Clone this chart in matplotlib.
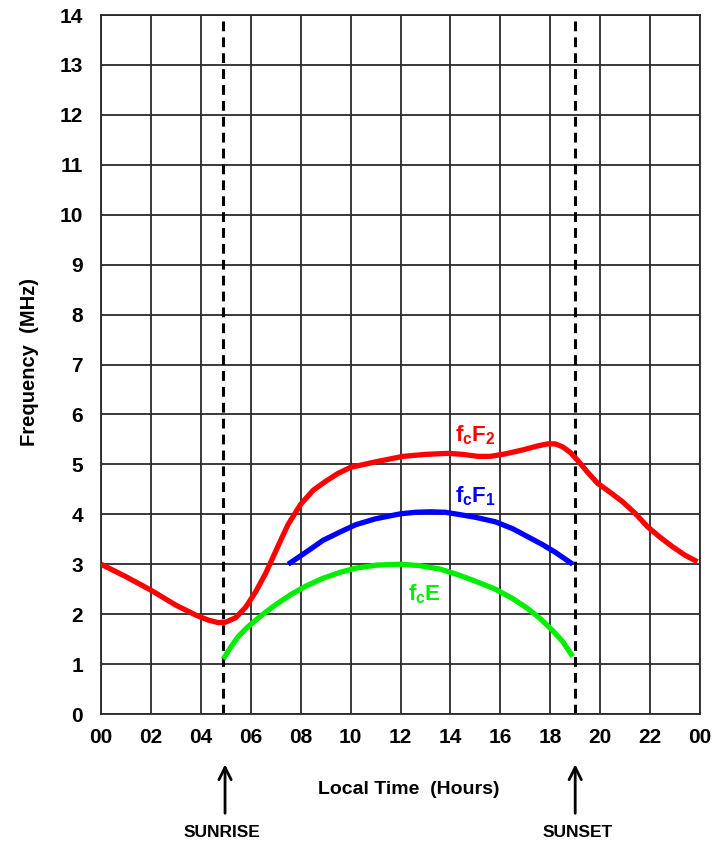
import matplotlib
matplotlib.use("Agg")
import matplotlib.pyplot as plt
import numpy as np

plt.rcParams['font.family'] = ['Liberation Sans', 'DejaVu Sans']
plt.rcParams['font.weight'] = 'bold'
plt.rcParams['mathtext.fontset'] = 'custom'
plt.rcParams['mathtext.bf'] = 'Liberation Sans:bold'
plt.rcParams['mathtext.rm'] = 'Liberation Sans:bold'

# fcF2 (red)
f2_t = [0, 1, 2, 3, 3.8, 4.3, 4.7, 5.0, 5.4, 5.8, 6.2, 6.6, 6.9, 7.2, 7.5, 8.0, 8.5, 9.0, 9.5, 10.0, 11.0, 12.1, 13.0, 13.9, 14.5, 15.1, 15.6, 16.2, 16.9, 17.5, 17.9, 18.2, 18.5, 18.8, 19.1, 19.5, 19.9, 20.4, 20.9, 21.4, 21.9, 22.4, 22.9, 23.4, 23.9]
f2_f = [3.0, 2.75, 2.48, 2.18, 1.98, 1.88, 1.83, 1.84, 1.93, 2.14, 2.45, 2.82, 3.15, 3.48, 3.80, 4.20, 4.48, 4.66, 4.82, 4.94, 5.05, 5.16, 5.20, 5.22, 5.20, 5.16, 5.16, 5.21, 5.29, 5.37, 5.41, 5.41, 5.35, 5.24, 5.08, 4.84, 4.62, 4.44, 4.25, 4.02, 3.75, 3.54, 3.35, 3.18, 3.05]

# fcF1 (blue)
f1_t = [7.5, 8.3, 8.9, 9.6, 10.2, 11.0, 12.0, 12.6, 13.2, 13.8, 14.3, 15.0, 15.8, 16.5, 17.1, 17.7, 18.2, 18.9]
f1_f = [3.0, 3.27, 3.48, 3.65, 3.79, 3.91, 4.01, 4.04, 4.05, 4.04, 4.0, 3.94, 3.85, 3.71, 3.55, 3.39, 3.24, 3.0]

# fcE (green)
fe_t = [4.9, 5.2, 5.5, 5.85, 6.2, 6.6, 7.0, 7.6, 8.2, 8.9, 9.6, 10.2, 11.0, 12.0, 12.8, 13.6, 14.3, 15.0, 15.8, 16.5, 17.1, 17.6, 18.1, 18.5, 18.9]
fe_f = [1.1, 1.34, 1.55, 1.73, 1.88, 2.04, 2.19, 2.39, 2.56, 2.72, 2.84, 2.92, 2.98, 3.0, 2.97, 2.9, 2.79, 2.66, 2.50, 2.31, 2.11, 1.91, 1.67, 1.45, 1.15]

sunrise = 4.9
sunset = 19.0

x_ticks = list(range(0, 25, 2))
x_labels = ["00", "02", "04", "06", "08", "10", "12", "14", "16", "18", "20", "22", "00"]
y_ticks = list(range(0, 15))

fig = plt.figure(figsize=(7.17, 8.44), dpi=100)
ax = fig.add_axes([101/717, 1 - 714/844, 599/717, 699/844])

ax.set_xlim(0, 24)
ax.set_ylim(0, 14)
ax.set_xticks(x_ticks)
ax.set_xticklabels(x_labels)
ax.set_yticks(y_ticks)
ax.tick_params(length=0, labelsize=15)
ax.tick_params(axis='x', pad=10)
ax.tick_params(axis='y', pad=13)
ax.grid(True, color='#2a2a2a', lw=1.3)
ax.set_axisbelow(True)
for s in ax.spines.values():
    s.set_color('#2a2a2a')
    s.set_linewidth(1.3)

# sunrise / sunset dashed lines
ax.axvline(sunrise, color='black', lw=2.2, ls=(0, (3.2, 2.0)), zorder=2)
ax.axvline(sunset, color='black', lw=2.2, ls=(0, (3.2, 2.0)), zorder=2)

# curves
ax.plot(f2_t, f2_f, color='#ff0000', lw=3.8, solid_capstyle='butt', solid_joinstyle='round', zorder=3)
ax.plot(f1_t, f1_f, color='#0000ff', lw=3.8, solid_capstyle='butt', solid_joinstyle='round', zorder=3)
ax.plot(fe_t, fe_f, color='#00ee00', lw=3.8, solid_capstyle='butt', solid_joinstyle='round', zorder=3)

# curve labels
ax.text(14.2, 5.45, r'$\mathbf{f_{c}F_{2}}$', color='#ff0000', fontsize=16)
ax.text(14.2, 4.23, r'$\mathbf{f_{c}F_{1}}$', color='#0000ff', fontsize=16)
ax.text(12.3, 2.28, r'$\mathbf{f_{c}E}$', color='#00ee00', fontsize=16)

# axis labels
fig.text(30/717, 1 - 362/844, "Frequency  (MHz)", rotation=90, ha='center', va='center', fontsize=14.5, fontweight='bold')
fig.text(409/717, 1 - 790/844, "Local Time  (Hours)", ha='center', va='center', fontsize=14, fontweight='bold')

# arrows and sunrise/sunset labels
for t in [sunrise + 0.07, sunset]:
    ax.annotate("", xy=(t, -0.072), xytext=(t, -0.142),
                xycoords=('data', 'axes fraction'), textcoords=('data', 'axes fraction'),
                arrowprops=dict(arrowstyle='->', lw=2, color='black',
                                mutation_scale=22, shrinkA=0, shrinkB=0))
ax.text(sunrise - 0.05, -0.169, "SUNRISE", transform=ax.get_xaxis_transform(),
        ha='center', va='center', fontsize=12.5, fontweight='bold')
ax.text(sunset + 0.1, -0.169, "SUNSET", transform=ax.get_xaxis_transform(),
        ha='center', va='center', fontsize=12.5, fontweight='bold')

fig.savefig("out.png", dpi=100)
